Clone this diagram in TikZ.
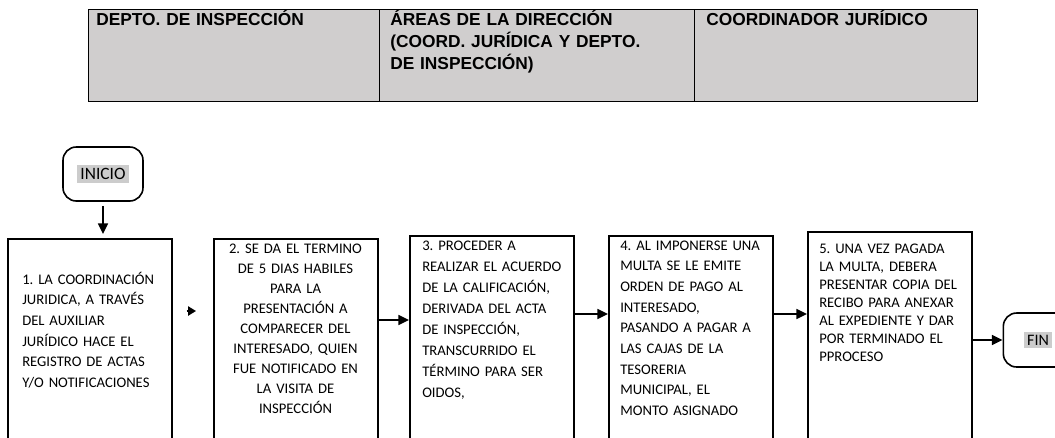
\documentclass[tikz,border=0pt]{standalone}
\usepackage{fontspec}
\setmainfont{Carlito}
\newfontfamily\arialfont{Liberation Sans}
\usepackage{xcolor}
\usepackage{tikz}
\usetikzlibrary{arrows.meta}
\frenchspacing

\definecolor{grisentete}{HTML}{D0CECE}
\definecolor{grissurligne}{HTML}{CCCCCC}

\tikzset{
  cellule/.style={draw, fill=grisentete, line width=0.9pt, anchor=north west, minimum height=69pt, inner sep=0pt},
  entete/.style={font=\arialfont\bfseries\fontsize{13}{16.5}\selectfont, align=left, anchor=base west, inner sep=0pt, text width=205pt},
  etape/.style={draw, line width=1.3pt, anchor=north west, minimum width=123pt, minimum height=172pt, inner sep=0pt},
  texte/.style={font=\fontsize{11}{15.5}\selectfont, align=left, anchor=base west, inner sep=0pt, text width=125pt},
  terminal/.style={draw, line width=1.2pt, rounded corners=10pt, minimum height=40.5pt, inner sep=0pt},
  fleche/.style={line width=1.2pt, -{Triangle[length=8pt,width=7.5pt]}}
}

\begin{document}
\begin{tikzpicture}[x=0.75pt, y=-0.75pt]
        \useasboundingbox (0,0) rectangle (1055,437);
        \clip (0,0) rectangle (1055,437);

        % Tableau d'en-tête
        \node[cellule, minimum width=218.25pt] (col1) at (88,9) {};
        \node[cellule, minimum width=236.25pt] (col2) at (379,9) {};
        \node[cellule, minimum width=212.25pt] (col3) at (694,9) {};
        \node[entete] (titre1) at (96,25) {DEPTO. DE INSPECCIÓN};
        \node[entete] (titre2) at (390,25) {ÁREAS DE LA DIRECCIÓN\\(COORD. JURÍDICA Y DEPTO.\\DE INSPECCIÓN)};
        \node[entete] (titre3) at (706,25) {COORDINADOR JURÍDICO};

        % Début et fin
        \node[terminal, minimum width=60pt, font=\fontsize{13}{15}\selectfont] (inicio) at (103,174)
          {\setlength{\fboxsep}{2.5pt}\colorbox{grissurligne}{INICIO}};
        \node[terminal, minimum width=52pt, font=\fontsize{12}{14}\selectfont] (fin) at (1038,340)
          {\setlength{\fboxsep}{2.5pt}\colorbox{grissurligne}{FIN}};

        % Les cinq étapes
        \node[etape] (b1) at (7,238) {};
        \node[etape] (b2) at (213,238) {};
        \node[etape] (b3) at (409,235) {};
        \node[etape] (b4) at (608,235) {};
        \node[etape] (b5) at (807,231) {};

        \node[texte] (t1) at (22,284) {1. LA COORDINACIÓN\\JURIDICA, A TRAVÉS\\DEL AUXILIAR\\JURÍDICO HACE EL\\REGISTRO DE ACTAS\\Y/O NOTIFICACIONES};
        \node[texte, anchor=base, align=center, font=\fontsize{11}{15}\selectfont] (t2) at (295.5,253) {2. SE DA EL TERMINO\\DE 5 DIAS HABILES\\PARA LA\\PRESENTACIÓN A\\COMPARECER DEL\\INTERESADO, QUIEN\\FUE NOTIFICADO EN\\LA VISITA DE\\INSPECCIÓN};
        \node[texte, font=\fontsize{11}{15.8}\selectfont] (t3) at (422,250) {3. PROCEDER A\\REALIZAR EL ACUERDO\\DE LA CALIFICACIÓN,\\DERIVADA DEL ACTA\\DE INSPECCIÓN,\\TRANSCURRIDO EL\\TÉRMINO PARA SER\\OIDOS,};
        \node[texte] (t4) at (620,250) {4. AL IMPONERSE UNA\\MULTA SE LE EMITE\\ORDEN DE PAGO AL\\INTERESADO,\\PASANDO A PAGAR A\\LAS CAJAS DE LA\\TESORERIA\\MUNICIPAL, EL\\MONTO ASIGNADO};
        \node[texte, font=\fontsize{11}{13.5}\selectfont] (t5) at (819,253) {5. UNA VEZ PAGADA\\LA MULTA, DEBERA\\PRESENTAR COPIA DEL\\RECIBO PARA ANEXAR\\AL EXPEDIENTE Y DAR\\POR TERMINADO EL\\PPROCESO};

        % Flèches
        \draw[fleche, shorten <=3pt, shorten >=3pt] (inicio) -- (inicio |- b1.north);
        \draw[fleche, -{Triangle[length=6pt,width=7pt]}, shorten <=10.5pt, shorten >=12.75pt] (b1.east |- 0,311) -- (b2.west |- 0,311);
        \draw[fleche] (b2.east |- 0,320) -- (b3.west |- 0,320);
        \draw[fleche] (b3.east |- 0,314) -- (b4.west |- 0,314);
        \draw[fleche] (b4.east |- 0,314) -- (b5.west |- 0,314);
        \draw[fleche] (b5.east |- fin) -- (fin);
    \end{tikzpicture}
\end{document}
